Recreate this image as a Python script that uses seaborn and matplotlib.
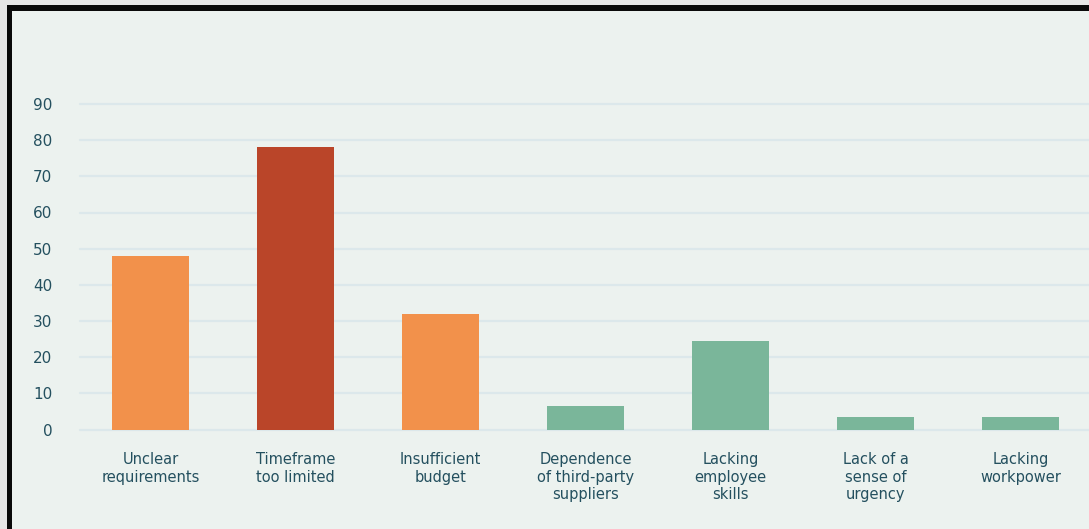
import matplotlib
matplotlib.use("Agg")
import matplotlib.pyplot as plt
import matplotlib.patches as mpatches
import seaborn as sns
import pandas as pd

categories = [
    "Unclear\nrequirements",
    "Timeframe\ntoo limited",
    "Insufficient\nbudget",
    "Dependence\nof third-party\nsuppliers",
    "Lacking\nemployee\nskills",
    "Lack of a\nsense of\nurgency",
    "Lacking\nworkpower",
]
values = [48, 78, 32, 6.5, 24.5, 3.5, 3.5]
bar_colors = ["#F2914B", "#BA4529", "#F2914B", "#7AB69A", "#7AB69A", "#7AB69A", "#7AB69A"]
y_ticks = [0, 10, 20, 30, 40, 50, 60, 70, 80, 90]

W, H = 1089, 529
sns.set_theme(style="white")
plt.rcParams["font.family"] = ["DejaVu Sans"]

fig = plt.figure(figsize=(W / 100, H / 100), dpi=100)
fig.patch.set_facecolor("#E7E7E7")

# framed panel: black border on the left/top, pale background inside
fig.patches.append(mpatches.Rectangle((7 / W, 0), 1.0, (H - 5) / H, transform=fig.transFigure,
                                      facecolor="#0A0A0A", edgecolor="none", zorder=-2))
fig.patches.append(mpatches.Rectangle((11.5 / W, 0), 1.0, (H - 10.5) / H, transform=fig.transFigure,
                                      facecolor="#ECF2EF", edgecolor="none", zorder=-1))

ax = fig.add_axes([80 / W, (H - 429.5) / H, (W - 80) / W, (429.5 - 104) / H])
ax.set_facecolor("none")

df = pd.DataFrame({"category": categories, "value": values})
sns.barplot(data=df, x="category", y="value", hue="category", palette=bar_colors,
            legend=False, width=0.53, saturation=1, linewidth=0, edgecolor="none",
            ax=ax, zorder=3)

ax.set_xlim(-0.486, 6.472)
ax.set_ylim(0, 90)
ax.set_yticks(y_ticks)
ax.set_xlabel("")
ax.set_ylabel("")
for y in y_ticks:
    ax.axhline(y, color="#DCE8EB", linewidth=1.6, zorder=1, clip_on=False)
for s in ax.spines.values():
    s.set_visible(False)

ax.tick_params(axis="y", length=0, pad=20, labelsize=11, labelcolor="#24505F")
ax.tick_params(axis="x", length=0, pad=16.5, labelsize=10.5, labelcolor="#24505F")
for lbl in ax.get_xticklabels():
    lbl.set_linespacing(1.2)
    lbl.set_va("top")

fig.savefig("out.png", dpi=100, facecolor=fig.get_facecolor())
